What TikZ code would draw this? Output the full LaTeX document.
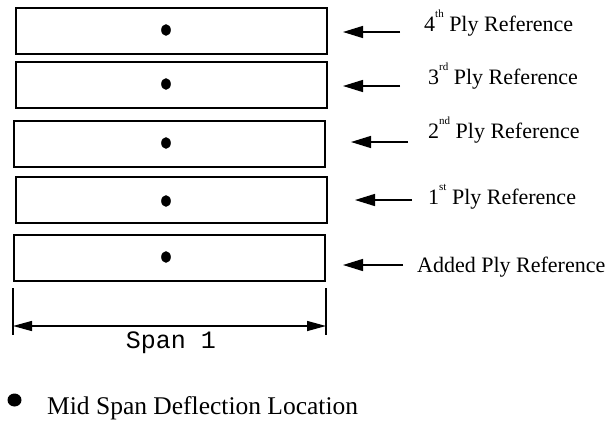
\documentclass[tikz,border=0pt]{standalone}
\usepackage{fontspec}
\setmainfont{Liberation Serif}
\newfontfamily\courierfont{Liberation Mono}
\usetikzlibrary{arrows.meta}

\tikzset{
  plybox/.style={draw, line width=1.6pt, minimum width=311pt, minimum height=46pt,
                 inner sep=0pt, anchor=north west},
  reflabel/.style={font=\fontsize{22}{24}\selectfont, anchor=base west, inner sep=0pt},
  legendlabel/.style={font=\fontsize{25.5}{28}\selectfont, anchor=base west, inner sep=0pt},
  refarrow/.style={line width=1.4pt, -{Triangle[length=20pt,width=12pt]}},
  dimarrow/.style={line width=1.4pt, {Triangle[length=19pt,width=10pt]}-{Triangle[length=19pt,width=10pt]}},
  tick/.style={line width=1.4pt}
}
\newcommand{\sups}[1]{\raisebox{14pt}{\fontsize{11}{11}\selectfont #1}}

\begin{document}
\begin{tikzpicture}[x=1pt,y=-1pt]
  \useasboundingbox (0,0) rectangle (608,421);

  % the five ply rectangles, top to bottom
  \node[plybox] (p4) at (15,7)   {};
  \node[plybox] (p3) at (15,61)  {};
  \node[plybox] (p2) at (13,120) {};
  \node[plybox] (p1) at (15,176) {};
  \node[plybox] (p0) at (13,234) {};

  % mid span deflection points
  \foreach \y in {30, 84, 143, 201, 257}
    \fill (166,\y) ellipse (4.8pt and 5.8pt);

  % reference labels
  \node[reflabel] (l4) at (424,31)  {4\sups{th} Ply Reference};
  \node[reflabel] (l3) at (428,84)  {3\sups{rd} Ply Reference};
  \node[reflabel] (l2) at (428,138) {2\sups{nd} Ply Reference};
  \node[reflabel] (l1) at (428,204) {1\sups{st} Ply Reference};
  \node[reflabel] (l0) at (417,272) {Added Ply Reference};

  % arrows pointing back at the rectangles
  \coordinate (a4) at (343,32);
  \coordinate (a3) at (343,86);
  \coordinate (a2) at (351,142);
  \coordinate (a1) at (355,200);
  \coordinate (a0) at (343,265);

  \draw[refarrow] (a4 -| 400,0) -- (a4);
  \draw[refarrow] (a3 -| 400,0) -- (a3);
  \draw[refarrow] (a2 -| 408,0) -- (a2);
  \draw[refarrow] (a1 -| 412,0) -- (a1);
  \draw[refarrow] (a0 -| 403,0) -- (a0);

  % span dimension
  \coordinate (d1) at (13,288);
  \coordinate (d2) at (326,288);
  \draw[tick] (d1) -- ++(0,47);
  \draw[tick] (d2) -- ++(0,47);
  \coordinate (s1) at (13,326);
  \coordinate (s2) at (326,326);
  \draw[dimarrow] (s1) -- (s2);
  \node[font=\courierfont\fontsize{25}{26}\selectfont, inner sep=0pt, anchor=base] (span) at (171,348) {Span 1};

  % legend
  \fill (14.5,400) ellipse (7pt and 6.5pt);
  \node[legendlabel] (leg) at (47,414) {Mid Span Deflection Location};
\end{tikzpicture}
\end{document}
